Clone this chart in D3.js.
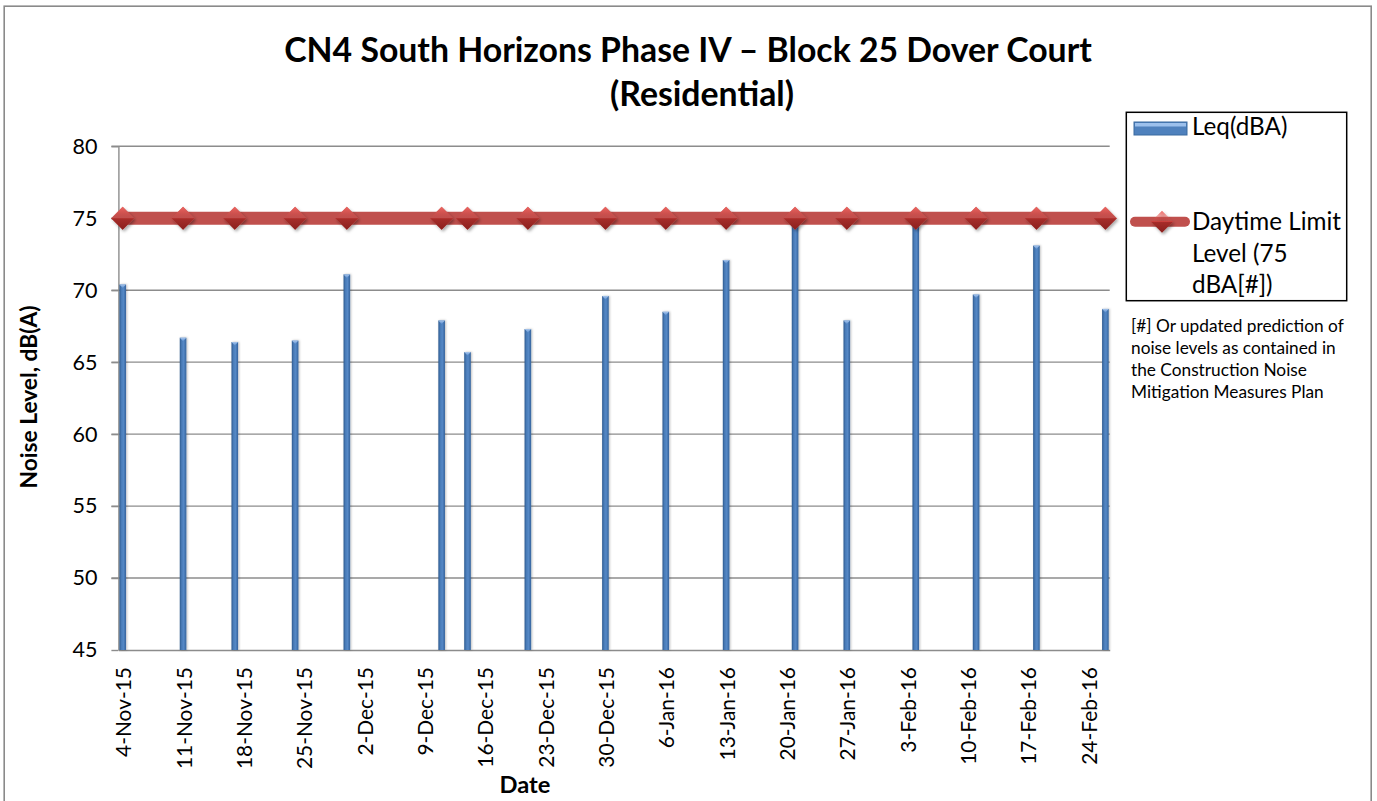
<!DOCTYPE html>
<html><head><meta charset="utf-8">
<script src="https://cdn.jsdelivr.net/npm/d3@7"></script>
<style>
body{margin:0;background:#fff}
svg{display:block}
text{font-family:Lato,"Open Sans",sans-serif;fill:#000}
</style>
</head><body>
<svg id="c" width="1377" height="801"></svg>
<script>
// ---------------- data ----------------
const titleLines = ["CN4 South Horizons Phase IV \u2013 Block 25 Dover Court", "(Residential)"];
const measureDates = ["2015-11-04","2015-11-11","2015-11-17","2015-11-24","2015-11-30",
  "2015-12-11","2015-12-14","2015-12-21","2015-12-30","2016-01-06","2016-01-13",
  "2016-01-21","2016-01-27","2016-02-04","2016-02-11","2016-02-18","2016-02-26"];
const leqValues = [70.4,66.7,66.4,66.5,71.1,67.9,65.7,67.3,69.6,68.5,72.1,74.9,67.9,74.9,69.7,73.1,68.7];
const limitValues = [75,75,75,75,75,75,75,75,75,75,75,75,75,75,75,75,75];
const yTickValues = [45,50,55,60,65,70,75,80];
const xTickDates = ["2015-11-04","2015-11-11","2015-11-18","2015-11-25","2015-12-02","2015-12-09",
  "2015-12-16","2015-12-23","2015-12-30","2016-01-06","2016-01-13","2016-01-20","2016-01-27",
  "2016-02-03","2016-02-10","2016-02-17","2016-02-24"];
const xTickLabels = ["4-Nov-15","11-Nov-15","18-Nov-15","25-Nov-15","2-Dec-15","9-Dec-15",
  "16-Dec-15","23-Dec-15","30-Dec-15","6-Jan-16","13-Jan-16","20-Jan-16","27-Jan-16",
  "3-Feb-16","10-Feb-16","17-Feb-16","24-Feb-16"];
const axisStart = "2015-11-04", axisEnd = "2016-02-27";
const yTitle = "Noise Level, dB(A)";
const xTitle = "Date";
const legendLeq = "Leq(dBA)";
const legendLimitLines = ["Daytime Limit","Level (75","dBA[#])"];
const footnoteLines = ["[#] Or updated prediction of","noise levels as contained in","the Construction Noise","Mitigation Measures Plan"];

// ---------------- setup ----------------
const parse = d3.utcParse("%Y-%m-%d");
const svg = d3.select("#c");
const L = 118.4, R = 1109.7, T = 146.3, B = 650;

const x = d3.scaleUtc().domain([parse(axisStart), parse(axisEnd)]).range([L, R]);
const y = d3.scaleLinear().domain([45, 80]).range([B, T]);
const dayW = x(d3.utcDay.offset(parse(axisStart), 1)) - x(parse(axisStart));
const cx = d => x(d) + dayW / 2;
const barW = 6.6;

// fit font size so a sample string gets a target width
function fitSize(str, target, weight, base) {
  const t = svg.append("text").attr("font-size", base).attr("font-weight", weight || "normal").text(str);
  const w = t.node().getComputedTextLength();
  t.remove();
  return base * target / w;
}

const defs = svg.append("defs");
const bg = defs.append("linearGradient").attr("id","barGrad").attr("x1","0").attr("x2","1").attr("y1","0").attr("y2","0");
bg.append("stop").attr("offset","0").attr("stop-color","#2d5a8f");
bg.append("stop").attr("offset","0.3").attr("stop-color","#4a7cb8");
bg.append("stop").attr("offset","0.6").attr("stop-color","#5588c6");
bg.append("stop").attr("offset","1").attr("stop-color","#34639c");
const cap = defs.append("linearGradient").attr("id","capGrad").attr("x1","0").attr("x2","0").attr("y1","0").attr("y2","1");
cap.append("stop").attr("offset","0").attr("stop-color","#a9c6ec");
cap.append("stop").attr("offset","1").attr("stop-color","#5b8fd0");
const mg = defs.append("linearGradient").attr("id","mkGrad").attr("x1","0").attr("x2","0").attr("y1","0").attr("y2","1");
mg.append("stop").attr("offset","0").attr("stop-color","#f06a66");
mg.append("stop").attr("offset","0.48").attr("stop-color","#d9474300");
mg.append("stop").attr("offset","0.48").attr("stop-color","#d84643");
mg.append("stop").attr("offset","0.52").attr("stop-color","#a62d2a");
mg.append("stop").attr("offset","1").attr("stop-color","#8a1f1d");
const sh = defs.append("filter").attr("id","shadow").attr("x","-50%").attr("y","-50%").attr("width","200%").attr("height","200%");
sh.append("feDropShadow").attr("dx",1.5).attr("dy",2).attr("stdDeviation",1.5).attr("flood-color","#000").attr("flood-opacity",0.35);
const sh2 = defs.append("filter").attr("id","shadow2").attr("x","-50%").attr("y","-50%").attr("width","200%").attr("height","200%");
sh2.append("feDropShadow").attr("dx",1).attr("dy",0).attr("stdDeviation",1).attr("flood-color","#000").attr("flood-opacity",0.25);

// outer frame
svg.append("rect").attr("x",4.2).attr("y",6.2).attr("width",1367).attr("height",800)
  .attr("fill","none").attr("stroke","#8a8a8a").attr("stroke-width",1.6);

// title
const titleSize = fitSize(titleLines[0], 808, "bold", 30);
svg.append("text").attr("x",688).attr("y",62).attr("text-anchor","middle")
  .attr("font-size",titleSize).attr("font-weight","bold").text(titleLines[0]);
svg.append("text").attr("x",702).attr("y",106).attr("text-anchor","middle")
  .attr("font-size",titleSize).attr("font-weight","bold").text(titleLines[1]);

// gridlines
svg.append("g").selectAll("line").data(yTickValues.filter(v => v > 45)).join("line")
  .attr("x1", L - 7).attr("x2", R).attr("y1", d => y(d)).attr("y2", d => y(d))
  .attr("stroke","#8c8c8c").attr("stroke-width",1.4);

// y axis
const yTickSize = fitSize("80", 25, "normal", 20);
const yAxis = svg.append("g").attr("transform",`translate(${L},0)`)
  .call(d3.axisLeft(y).tickValues(yTickValues).tickSize(7).tickSizeOuter(0).tickPadding(14));
yAxis.select(".domain").attr("stroke","#8c8c8c").attr("stroke-width",1.4);
yAxis.selectAll(".tick line").attr("stroke","#8c8c8c").attr("stroke-width",1.4);
yAxis.selectAll(".tick text").attr("font-size",yTickSize).attr("font-family","Lato, sans-serif").attr("fill","#000");

// x axis (ticks every week, labels centred on day slots)
const xTickSize = fitSize("4-Nov-15", 90, "normal", 20);
const xAxis = svg.append("g").attr("transform",`translate(0,${B})`)
  .call(d3.axisBottom(x).tickValues(xTickDates.map(parse)).tickSize(0).tickSizeOuter(0)
    .tickFormat((d,i) => xTickLabels[i]));
xAxis.select(".domain").attr("stroke","#8c8c8c").attr("stroke-width",1.4);
xAxis.selectAll(".tick").attr("transform", d => `translate(${cx(d)},0)`);
xAxis.selectAll(".tick text")
  .attr("font-size",xTickSize).attr("font-family","Lato, sans-serif").attr("fill","#000")
  .attr("text-anchor","end").attr("dy",null).attr("y",null).attr("x",null)
  .attr("transform","translate(0,17) rotate(-90)").attr("dominant-baseline","central");

// bars
const barData = measureDates.map((d,i) => ({date: parse(d), v: leqValues[i]}));
const bars = svg.append("g").attr("filter","url(#shadow2)");
bars.selectAll("rect.bar").data(barData).join("rect").attr("class","bar")
  .attr("x", d => cx(d.date) - barW/2).attr("width", barW)
  .attr("y", d => y(d.v)).attr("height", d => y(45) - y(d.v))
  .attr("fill","url(#barGrad)");
bars.selectAll("path.cap").data(barData).join("path").attr("class","cap")
  .attr("d", d => {
    const x0 = cx(d.date) - barW/2, yy = y(d.v);
    return `M${x0},${yy} L${x0+barW},${yy} L${x0+barW/2},${yy+3.5} Z`;
  })
  .attr("fill","url(#capGrad)");

// limit line
const lineData = measureDates.map((d,i) => ({date: parse(d), v: limitValues[i]}));
svg.append("path").datum(lineData)
  .attr("d", d3.line().x(d => cx(d.date)).y(d => y(d.v)))
  .attr("fill","none").attr("stroke","#C0504D").attr("stroke-width",13)
  .attr("stroke-linecap","round").attr("stroke-linejoin","round");
const diamond = d3.symbol(d3.symbolSquare, 265);
svg.append("g").attr("filter","url(#shadow)").selectAll("path").data(lineData).join("path")
  .attr("transform", d => `translate(${cx(d.date)},${y(d.v)}) rotate(45)`)
  .attr("d", diamond).attr("fill","#C0504D");
svg.append("g").selectAll("path").data(lineData).join("path")
  .attr("d", d => {
    const X = cx(d.date), Y = y(d.v), h = 11.5;
    return `M${X-h},${Y} L${X},${Y-h} L${X+h},${Y} L${X},${Y+h} Z`;
  })
  .attr("fill","url(#mkGrad)");

// axis titles
const yTitleSize = fitSize(yTitle, 183, "bold", 20);
svg.append("text").attr("transform","translate(37,397) rotate(-90)").attr("text-anchor","middle")
  .attr("font-size",yTitleSize).attr("font-weight","bold").text(yTitle);
const xTitleSize = fitSize(xTitle, 51, "bold", 20);
svg.append("text").attr("x",525).attr("y",793).attr("text-anchor","middle")
  .attr("font-size",xTitleSize).attr("font-weight","bold").text(xTitle);

// legend
svg.append("rect").attr("x",1126.3).attr("y",112.3).attr("width",220.4).attr("height",188.4)
  .attr("fill","#fff").attr("stroke","#000").attr("stroke-width",1.5);
const legSize = fitSize(legendLimitLines[0], 149, "normal", 20);
const lg = svg.append("g");
lg.append("rect").attr("x",1134).attr("y",122).attr("width",53).attr("height",13).attr("fill","#4F81BD").attr("stroke","#3b6aa0").attr("stroke-width",1);
lg.append("rect").attr("x",1135).attr("y",123).attr("width",51).attr("height",3.5).attr("fill","#9cc0ec");
lg.append("text").attr("x",1192).attr("y",135).attr("font-size",legSize).text(legendLeq);
lg.append("line").attr("x1",1135).attr("x2",1185).attr("y1",221.7).attr("y2",221.7)
  .attr("stroke","#C0504D").attr("stroke-width",10).attr("stroke-linecap","round");
lg.append("path").attr("d","M1151,221.7 L1162,210.7 L1173,221.7 L1162,232.7 Z").attr("fill","url(#mkGrad)").attr("filter","url(#shadow)");
lg.selectAll("text.ll").data(legendLimitLines).join("text").attr("class","ll")
  .attr("x",1192).attr("y",(d,i) => 230 + i*31.5).attr("font-size",legSize).text(d => d);

// footnote
const fnSize = fitSize(footnoteLines[0], 213, "normal", 15);
svg.append("g").selectAll("text").data(footnoteLines).join("text")
  .attr("x",1131).attr("y",(d,i) => 331.5 + i*22.3).attr("font-size",fnSize).text(d => d);
</script>
</body></html>
